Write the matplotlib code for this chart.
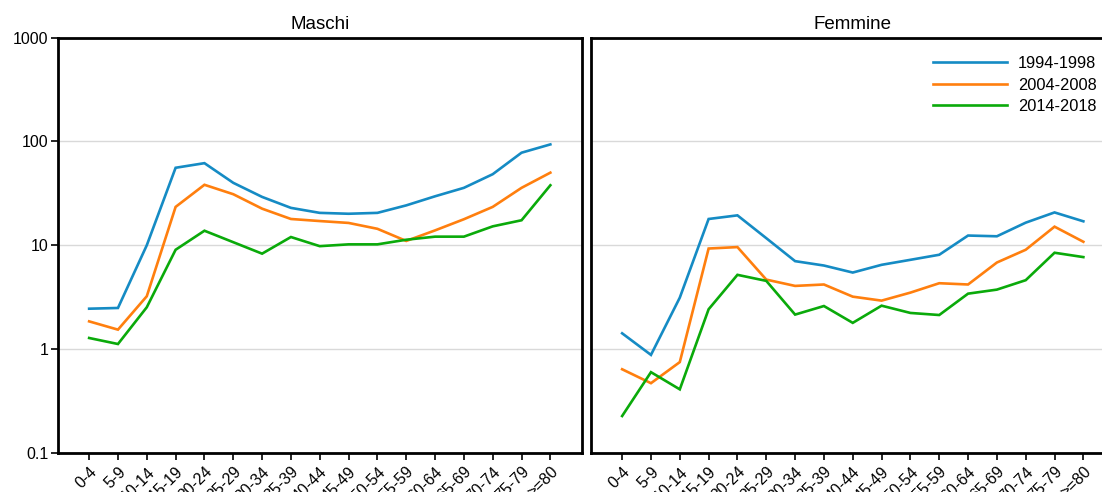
import matplotlib
matplotlib.use("Agg")
import matplotlib.pyplot as plt
from matplotlib.ticker import FixedLocator, FixedFormatter, NullLocator

plt.rcParams['font.family'] = ['Liberation Sans', 'DejaVu Sans']

age_groups = ["0-4", "5-9", "10-14", "15-19", "20-24", "25-29", "30-34", "35-39",
              "40-44", "45-49", "50-54", "55-59", "60-64", "65-69", "70-74", "75-79", ">=80"]
periods = ["1994-1998", "2004-2008", "2014-2018"]
colors = ["#158bc4", "#ff7f0e", "#0aaa0a"]

maschi_1994 = [2.45, 2.49, 10.0, 55.7, 61.7, 39.9, 29.2, 22.9, 20.5, 20.1, 20.5, 24.2, 29.6, 35.7, 48.3, 77.8, 93.5]
maschi_2004 = [1.85, 1.54, 3.23, 23.4, 38.2, 31.0, 22.5, 17.9, 17.1, 16.4, 14.4, 11.0, 13.9, 17.8, 23.4, 35.7, 50.0]
maschi_2014 = [1.28, 1.12, 2.53, 9.05, 13.8, 10.7, 8.3, 12.0, 9.8, 10.2, 10.2, 11.3, 12.1, 12.1, 15.2, 17.4, 37.8]

femmine_1994 = [1.42, 0.88, 3.13, 17.9, 19.4, 11.7, 7.03, 6.38, 5.46, 6.48, 7.24, 8.1, 12.4, 12.2, 16.5, 20.7, 17.0]
femmine_2004 = [0.64, 0.47, 0.75, 9.3, 9.6, 4.67, 4.06, 4.19, 3.2, 2.93, 3.5, 4.31, 4.19, 6.82, 9.05, 15.1, 10.8]
femmine_2014 = [0.227, 0.60, 0.41, 2.42, 5.19, 4.54, 2.15, 2.60, 1.79, 2.62, 2.23, 2.13, 3.42, 3.74, 4.61, 8.47, 7.69]

titles = ["Maschi", "Femmine"]
y_ticks = [0.1, 1, 10, 100, 1000]
y_ticklabels = ["0.1", "1", "10", "100", "1000"]

W, H = 1102, 492
fig = plt.figure(figsize=(W / 100, H / 100), dpi=100)

def fx(px):
    return px / W

def fy(py):
    return 1 - py / H

ax_w = fx(523.5)
ax_h = fy(37.5) - fy(453)
ax1 = fig.add_axes([fx(58), fy(453), ax_w, ax_h])
ax2 = fig.add_axes([fx(591), fy(453), ax_w, ax_h])

x = list(range(len(age_groups)))
data = [[maschi_1994, maschi_2004, maschi_2014],
        [femmine_1994, femmine_2004, femmine_2014]]

for i, (ax, series) in enumerate(zip([ax1, ax2], data)):
    ax.set_yscale("log")
    ax.set_ylim(0.1, 1000)
    ax.set_xlim(-1.08, 17.08)
    for vals, c, lab in zip(series, colors, periods):
        ax.plot(x, vals, color=c, lw=1.9, label=lab, solid_joinstyle="miter")
    ax.yaxis.set_major_locator(FixedLocator(y_ticks))
    ax.yaxis.set_minor_locator(NullLocator())
    ax.grid(axis="y", color="#d9d9d9", lw=1.0)
    ax.set_axisbelow(True)
    ax.set_xticks(x)
    ax.set_xticklabels(age_groups, rotation=45, ha="right", rotation_mode="anchor", fontsize=11.5)
    ax.tick_params(axis="x", direction="out", length=5, width=1.2, pad=3)
    for s in ax.spines.values():
        s.set_linewidth(2.0)
    ax.set_title(titles[i], fontsize=13.5, pad=6)
    if i == 0:
        ax.yaxis.set_major_formatter(FixedFormatter(y_ticklabels))
        ax.tick_params(axis="y", direction="out", length=5, width=1.2, labelsize=11.5, pad=2)
    else:
        ax.tick_params(axis="y", left=False, labelleft=False)

leg = ax2.legend(loc="upper left", bbox_to_anchor=(fx(933), fy(56)), bbox_transform=fig.transFigure,
                 frameon=False, fontsize=11.8, handlelength=4.5, handletextpad=0.7,
                 labelspacing=0.4, borderpad=0, borderaxespad=0)

fig.savefig("out.png", dpi=100)
